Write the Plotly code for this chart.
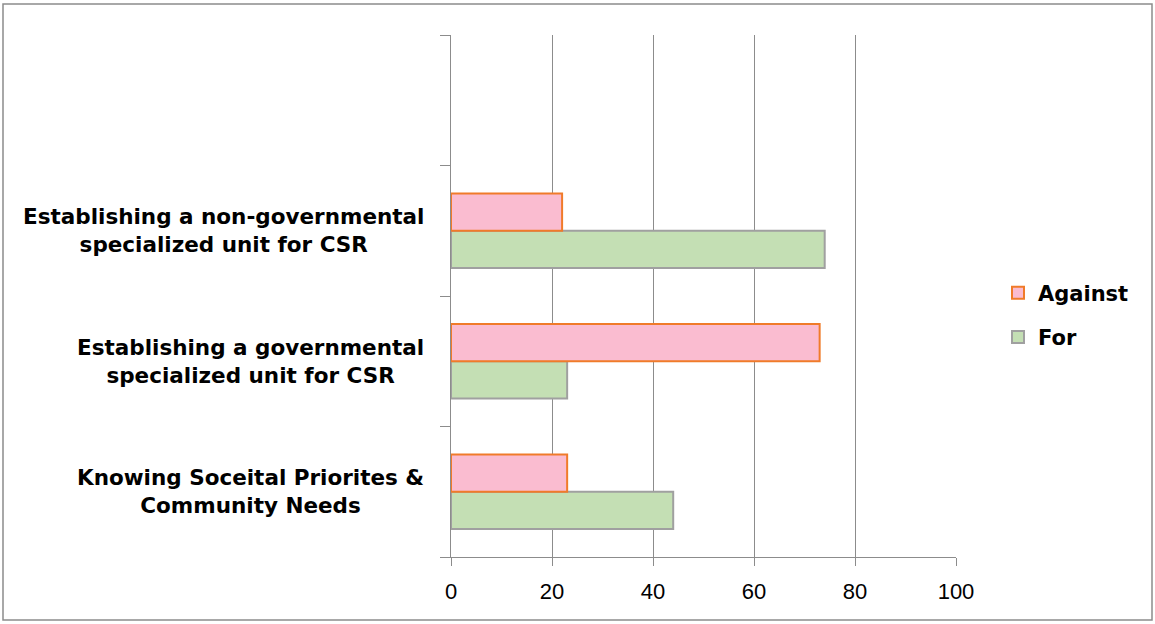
import plotly.graph_objects as go

categories = [
    "Knowing Soceital Priorites &<br>Community Needs",
    "Establishing a governmental<br>specialized unit for CSR",
    "Establishing a non-governmental<br>specialized unit for CSR",
    " ",
]
data_categories = categories[:3]
against = [23, 73, 22]
for_vals = [44, 23, 74]
x_ticks = [0, 20, 40, 60, 80, 100]

W, H = 1155, 624
L, R, T, B = 451, 199, 35, 67
pw = W - L - R
ph = H - T - B

fig = go.Figure()
fig.add_trace(go.Bar(
    y=data_categories, x=for_vals, orientation="h", name="For",
    marker=dict(color="#C4DFB4", line=dict(color="#A0A0A0", width=2)),
    legendgroup="for", legendrank=2,
))
fig.add_trace(go.Bar(
    y=data_categories, x=against, orientation="h", name="Against",
    marker=dict(color="#FABCD0", line=dict(color="#F07B2A", width=2)),
    legendgroup="against", legendrank=1,
))

label_font = dict(family="DejaVu Sans", size=21.5, color="#000000")
for c in data_categories:
    fig.add_annotation(
        x=(426 - L) / pw, xref="paper", y=c, yref="y",
        text="<b>" + c + "</b>", showarrow=False, xanchor="right",
        align="center", font=label_font,
    )

# outer border
fig.add_shape(type="rect", xref="paper", yref="paper",
              x0=(3 - L) / pw, x1=(1152 - L) / pw,
              y0=(H - B - 620) / ph, y1=(H - B - 4) / ph,
              line=dict(color="#8C8C8C", width=1.5))

fig.update_layout(
    width=W, height=H,
    margin=dict(l=L, r=R, t=T, b=B),
    paper_bgcolor="white", plot_bgcolor="white",
    barmode="group", bargap=0.43, bargroupgap=0,
    showlegend=True,
    legend=dict(
        x=(998 - L) / pw, y=(H - B - 315) / ph, xanchor="left", yanchor="middle",
        traceorder="grouped", tracegroupgap=14,
        font=dict(family="DejaVu Sans", size=21, color="#000000", weight="bold"),
        itemwidth=30,
    ),
    xaxis=dict(
        range=[0, 100], tickvals=x_ticks, ticktext=[str(v) for v in x_ticks],
        showgrid=True, gridcolor="#8C8C8C", gridwidth=1,
        showline=True, linecolor="#8C8C8C", linewidth=1,
        ticks="outside", ticklen=8, tickcolor="#8C8C8C",
        tickfont=dict(family="Liberation Sans", size=22, color="#000000"),
        ticklabelstandoff=7,
        zeroline=False, fixedrange=True,
    ),
    yaxis=dict(
        type="category", categoryorder="array", categoryarray=categories,
        range=[-0.5, 3.5], showticklabels=False,
        showline=True, linecolor="#8C8C8C", linewidth=1,
        ticks="outside", ticklen=10, tickcolor="#8C8C8C", tickson="boundaries",
        showgrid=False, zeroline=False, fixedrange=True,
    ),
)

fig.write_html("out.html")
